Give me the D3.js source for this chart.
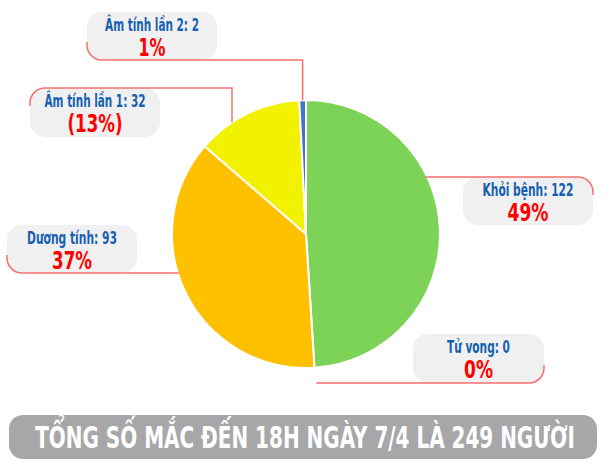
<!DOCTYPE html>
<html><head><meta charset="utf-8">
<script src="https://cdn.jsdelivr.net/npm/d3@7"></script>
<style>body{margin:0;background:#fff}svg{display:block}</style>
</head><body><svg id="c" width="611" height="465"></svg>
<script>
// ---- data ----
const categories = ["Khỏi bệnh", "Tử vong", "Dương tính", "Âm tính lần 1", "Âm tính lần 2"];
const values = [122, 0, 93, 32, 2];
const percentLabels = ["49%", "0%", "37%", "(13%)", "1%"];
const sliceColors = ["#7dd358", "#999999", "#ffc000", "#f2f200", "#4472c4"];
const bannerText = "TỔNG SỐ MẮC ĐẾN 18H NGÀY 7/4 LÀ 249 NGƯỜI";

// ---- layout ----
const cx = 306, cy = 234, R = 134;
const FONT = "'Liberation Sans Narrow','DejaVu Sans Condensed','Roboto','Arial Narrow',sans-serif";
const boxes = [
  {i:0, x:463, y:177, w:130, h:48, corner:"tr", tw:91, pw:41},
  {i:1, x:413, y:334, w:131, h:49, corner:"br", tw:63, pw:29},
  {i:2, x:7,   y:225, w:130, h:48, corner:"bl-h", tw:90, pw:40},
  {i:3, x:30,  y:88,  w:130, h:49, corner:"tl", tw:101, pw:55, ax:232},
  {i:4, x:87,  y:12,  w:130, h:48, corner:"bl-v", tw:94, pw:27}
];

const svg = d3.select("#c");
const pie = d3.pie().sort(null).value(d => d)(values);
const arc = d3.arc().innerRadius(0).outerRadius(R);

const g = svg.append("g").attr("transform", `translate(${cx},${cy})`);
g.selectAll("path").data(pie).join("path")
  .attr("d", arc)
  .attr("fill", (d, i) => sliceColors[i])
  .attr("stroke", "#fff").attr("stroke-width", d => d.value > 0 ? 2 : 0)
  .attr("stroke-linejoin", "round");

const rr = 15;
function leader(b) {
  const {x, y, w, h} = b;
  const d = pie[b.i];
  if (b.corner === "bl-v") {
    const mid = (d.startAngle + d.endAngle) / 2;
    const ax = cx + R * Math.sin(mid);
    const py = cy - Math.sqrt(R*R - (ax-cx)*(ax-cx));
    return `M${x},${y+h-rr-3} L${x},${y+h-rr} A${rr},${rr} 0 0 0 ${x+rr},${y+h} L${ax},${y+h} L${ax},${py}`;
  }
  if (b.corner === "tl") {
    const ax = b.ax;
    const py = cy - Math.sqrt(R*R - (ax-cx)*(ax-cx));
    return `M${x},${y+rr+3} L${x},${y+rr} A${rr},${rr} 0 0 1 ${x+rr},${y} L${ax},${y} L${ax},${py}`;
  }
  if (b.corner === "bl-h") {
    const yy = y + h;
    const px = cx - Math.sqrt(R*R - (yy-cy)*(yy-cy)) + 1;
    return `M${x},${y+h-rr-3} L${x},${y+h-rr} A${rr},${rr} 0 0 0 ${x+rr},${yy} L${px},${yy}`;
  }
  if (b.corner === "tr") {
    const px = cx + Math.sqrt(R*R - (y-cy)*(y-cy)) - 2;
    return `M${px},${y} L${x+w-rr},${y} A${rr},${rr} 0 0 1 ${x+w},${y+rr} L${x+w},${y+rr+3}`;
  }
  if (b.corner === "br") {
    const sx = cx + R * Math.sin(d.startAngle) + 2;
    return `M${sx},${y+h} L${x+w-rr},${y+h} A${rr},${rr} 0 0 0 ${x+w},${y+h-rr} L${x+w},${y+h-rr-3}`;
  }
}

// text squeezed horizontally to a target width (keeps glyph height)
function fitText(parent, str, mx, by, size, color, target) {
  const t = parent.append("text").attr("x", 0).attr("y", 0)
    .attr("text-anchor", "middle").attr("font-family", FONT).attr("font-weight", "bold")
    .attr("font-size", size).attr("fill", color).text(str);
  const len = t.node().getComputedTextLength();
  const s = Math.min(1, target / len);
  t.attr("transform", `translate(${mx},${by}) scale(${s},1)`);
  return t;
}

const lab = svg.append("g");
boxes.forEach(b => {
  lab.append("rect").attr("x", b.x).attr("y", b.y).attr("width", b.w).attr("height", b.h)
    .attr("rx", rr).attr("fill", "#f0f0f0");
  lab.append("path").attr("d", leader(b)).attr("fill", "none")
    .attr("stroke", "#f5706c").attr("stroke-width", 1.5);
  const mx = b.x + b.w / 2;
  fitText(lab, `${categories[b.i]}: ${values[b.i]}`, mx, b.y + 19, 17, "#1560b0", b.tw);
  fitText(lab, percentLabels[b.i], mx, b.y + 44, 25, "#ff0000", b.pw);
});

// banner
svg.append("rect").attr("x", 9).attr("y", 415).attr("width", 588).attr("height", 44)
  .attr("rx", 14).attr("fill", "#a7a7a9");
fitText(svg, bannerText, 305, 448, 30, "#fff", 540);
</script>
</body></html>
